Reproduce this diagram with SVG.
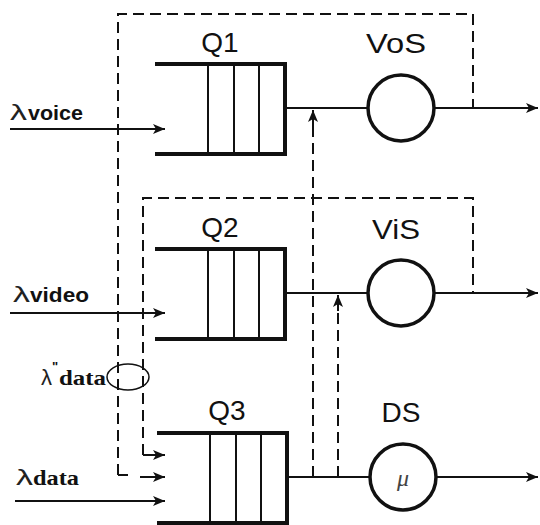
<svg xmlns="http://www.w3.org/2000/svg" width="540" height="525" viewBox="0 0 540 525">
<style>
.q{fill:none;stroke:#111;stroke-width:4}
.div{stroke:#111;stroke-width:2}
.srv{fill:#fff;stroke:#111;stroke-width:3.5}
.ln{stroke:#111;stroke-width:2;fill:none}
.ds{stroke:#111;stroke-width:2;fill:none;stroke-dasharray:11 6}
.lbl{font-family:"Liberation Sans",Arial,sans-serif;font-size:28px;fill:#111;text-anchor:middle}
.lam{font-family:"Liberation Sans",Arial,sans-serif;font-size:22px;fill:#222}
.sub{font-family:"Liberation Sans",Arial,sans-serif;font-size:21px;font-weight:bold;fill:#111}
.subs{font-family:"Liberation Serif","Times New Roman",serif;font-size:21px;font-weight:bold;fill:#111}
</style>
<defs>
<marker id="ar" viewBox="0 0 12 10" refX="12" refY="5" markerWidth="12" markerHeight="10" markerUnits="userSpaceOnUse" orient="auto">
<path d="M0,0 L12,5 L0,10 L3,5 Z" fill="#111"/>
</marker>
</defs>

<g id="connectors">
<path class="ds" d="M118,475 L118,14 L473,14 L473,108"/>
<path class="ds" d="M143,455 L143,198 L473,198 L473,293"/>
<path class="ds" d="M118,475 L128,475"/>
<path class="ds" d="M143,455 L148,455"/>
<line class="ln" x1="140" y1="477" x2="165" y2="477" marker-end="url(#ar)"/>
<line class="ln" x1="148" y1="455" x2="165" y2="455" marker-end="url(#ar)"/>
<line class="ln" x1="10" y1="129" x2="165" y2="129" marker-end="url(#ar)"/>
<line class="ln" x1="10" y1="313" x2="165" y2="313" marker-end="url(#ar)"/>
<line class="ln" x1="15" y1="501" x2="165" y2="501" marker-end="url(#ar)"/>
<line class="ln" x1="285" y1="108" x2="538" y2="108" marker-end="url(#ar)"/>
<line class="ln" x1="285" y1="293" x2="538" y2="293" marker-end="url(#ar)"/>
<line class="ln" x1="285" y1="477" x2="538" y2="477" marker-end="url(#ar)"/>
<line class="ds" x1="313" y1="477" x2="313" y2="122"/>
<line class="ln" x1="313" y1="126" x2="313" y2="110" marker-end="url(#ar)"/>
<line class="ds" x1="338" y1="477" x2="338" y2="307"/>
<line class="ln" x1="338" y1="311" x2="338" y2="295" marker-end="url(#ar)"/>
<ellipse cx="128" cy="377" rx="21" ry="13" fill="none" stroke="#111" stroke-width="1.5"/>
</g>

<g id="Q1">
<path class="q" d="M155,64 L285,64 L285,154 L155,154"/>
<line class="div" x1="208" y1="64" x2="208" y2="154"/>
<line class="div" x1="234" y1="64" x2="234" y2="154"/>
<line class="div" x1="259" y1="64" x2="259" y2="154"/>
<text class="lbl" x="220" y="52">Q1</text>
</g>
<g id="Q2">
<path class="q" d="M155,249 L285,249 L285,339 L155,339"/>
<line class="div" x1="208" y1="249" x2="208" y2="339"/>
<line class="div" x1="234" y1="249" x2="234" y2="339"/>
<line class="div" x1="259" y1="249" x2="259" y2="339"/>
<text class="lbl" x="220" y="237">Q2</text>
</g>
<g id="Q3">
<path class="q" d="M157,433 L287,433 L287,523 L157,523"/>
<line class="div" x1="210" y1="433" x2="210" y2="523"/>
<line class="div" x1="236" y1="433" x2="236" y2="523"/>
<line class="div" x1="261" y1="433" x2="261" y2="523"/>
<text class="lbl" x="227" y="420">Q3</text>
</g>
<g id="VoS">
<circle class="srv" cx="401" cy="108" r="33"/>
<text class="lbl" x="396" y="53" textLength="60" lengthAdjust="spacingAndGlyphs">VoS</text>
</g>
<g id="ViS">
<circle class="srv" cx="401" cy="293" r="33"/>
<text class="lbl" x="396" y="239" textLength="48" lengthAdjust="spacingAndGlyphs">ViS</text>
</g>
<g id="DS">
<circle class="srv" cx="403" cy="477" r="33"/>
<text class="lbl" x="401" y="422">DS</text>
<text x="403" y="486" font-family="'Liberation Serif','Times New Roman',serif" font-style="italic" font-size="24" fill="#444" text-anchor="middle">μ</text>
</g>
<g id="labels">
<text class="lam" x="10" y="120" textLength="17" lengthAdjust="spacingAndGlyphs">λ</text>
<text class="sub" x="28" y="120" textLength="55" lengthAdjust="spacingAndGlyphs">voice</text>
<text class="lam" x="13" y="302" textLength="17" lengthAdjust="spacingAndGlyphs">λ</text>
<text class="sub" x="30" y="302" textLength="59" lengthAdjust="spacingAndGlyphs">video</text>
<text class="lam" x="16" y="485" textLength="17" lengthAdjust="spacingAndGlyphs">λ</text>
<text class="subs" x="33" y="485" textLength="46" lengthAdjust="spacingAndGlyphs">data</text>
<text class="lam" x="41" y="385" textLength="11" lengthAdjust="spacingAndGlyphs">λ</text>
<text x="52" y="371" font-family="'Liberation Sans',Arial,sans-serif" font-size="13" font-weight="bold" fill="#111">"</text>
<text class="subs" x="59" y="385" textLength="47" lengthAdjust="spacingAndGlyphs">data</text>
</g>
</svg>
